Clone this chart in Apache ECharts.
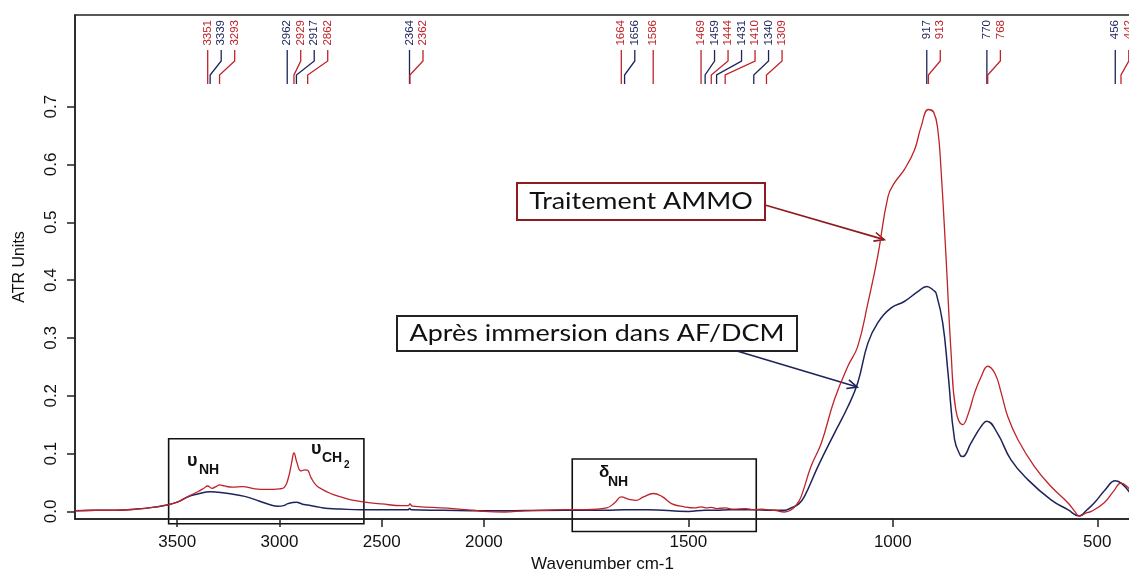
<!DOCTYPE html>
<html><head><meta charset="utf-8">
<script src="https://cdn.jsdelivr.net/npm/echarts@6/dist/echarts.min.js"></script>
<style>html,body{margin:0;padding:0;background:#fff}#c{width:1129px;height:570px}</style>
</head><body><div id="c"></div>
<script>
// ---- data ----
const wnAmmo = [4000,3900,3800,3700,3600,3550,3500,3450,3400,3370,3351,3330,3310,3293,3270,3230,3180,3120,3060,3000,2975,2955,2940,2929,2915,2895,2875,2862,2845,2820,2790,2750,2700,2650,2600,2500,2400,2370,2362,2350,2250,2150,2050,2000,1950,1900,1850,1800,1750,1700,1680,1664,1645,1628,1610,1586,1565,1540,1510,1485,1469,1455,1444,1431,1410,1390,1360,1340,1320,1309,1290,1265,1250,1235,1224,1200,1175,1143,1110,1086,1061,1037,1012,996,972,947,931,913,900,890,882,870,857,846,829,815,800,784,768,750,735,719,694,654,613,572,555,544,528,515,483,460,442,430,420];
const absAmmo = [0.001,0.002,0.002,0.004,0.008,0.011,0.016,0.025,0.034,0.040,0.044,0.040,0.043,0.046,0.044,0.042,0.043,0.039,0.038,0.039,0.042,0.060,0.085,0.101,0.085,0.070,0.072,0.071,0.058,0.045,0.038,0.031,0.025,0.020,0.017,0.013,0.010,0.010,0.013,0.009,0.007,0.005,0.002,0.000,-0.001,0.001,0.002,0.003,0.003,0.006,0.015,0.025,0.021,0.019,0.025,0.031,0.026,0.013,0.008,0.006,0.008,0.006,0.007,0.005,0.006,0.004,0.005,0.003,0.004,0.003,0.002,-0.001,0.002,0.012,0.026,0.078,0.118,0.193,0.251,0.285,0.360,0.441,0.544,0.568,0.591,0.625,0.665,0.695,0.690,0.660,0.590,0.441,0.268,0.176,0.150,0.170,0.205,0.233,0.251,0.238,0.205,0.164,0.124,0.078,0.043,0.015,0.000,-0.008,-0.003,0.000,0.015,0.035,0.049,0.045,0.037];
const wnImm = [4000,3900,3800,3700,3600,3550,3500,3450,3400,3339,3300,3250,3170,3100,3050,3007,2980,2962,2940,2917,2890,2860,2800,2760,2700,2600,2500,2370,2364,2355,2200,2000,1800,1700,1656,1600,1500,1459,1431,1400,1340,1300,1265,1249,1230,1216,1183,1143,1110,1086,1061,1037,1004,972,939,917,900,894,878,865,849,835,829,809,784,770,744,711,670,613,572,544,525,507,480,456,440,420];
const absImm = [0.001,0.002,0.002,0.004,0.008,0.011,0.016,0.025,0.030,0.034,0.033,0.031,0.026,0.018,0.012,0.009,0.010,0.013,0.015,0.016,0.013,0.011,0.007,0.005,0.004,0.003,0.003,0.003,0.005,0.003,0.002,0.001,0.002,0.002,0.003,0.003,0.000,0.002,0.002,0.003,0.003,0.002,0.002,0.006,0.013,0.026,0.078,0.135,0.181,0.222,0.291,0.326,0.352,0.363,0.380,0.389,0.382,0.377,0.326,0.239,0.124,0.097,0.095,0.118,0.147,0.156,0.135,0.089,0.055,0.020,0.003,-0.008,0.003,0.015,0.038,0.053,0.048,0.032];
const xTicks = [3500,3000,2500,2000,1500,1000,500];
const yTicks = [0,0.1,0.2,0.3,0.4,0.5,0.6,0.7];
const peaksImm = [3339,2962,2917,2364,1656,1459,1431,1340,917,770,456];
const peaksAmmo = [3351,3293,2929,2862,2362,1664,1586,1469,1444,1410,1309,913,768,442];
const nameAmmo = 'Traitement AMMO';
const nameImm = 'Après immersion dans AF/DCM';

// ---- styles / layout ----
const RED = '#BF2229', NAVY = '#1D2459', AX = '#222';
const FONT = 'Liberation Sans';
function tx(w){ return w <= 2000 ? w : 2000 + (w - 2000) / 2; }
function itx(t){ return t <= 2000 ? t : 2000 + (t - 2000) * 2; }

const chart = echarts.init(document.getElementById('c'));
chart.setOption({
  animation: false,
  grid: {left: 75, right: -1, top: 15, bottom: 51, show: true, borderColor: AX, borderWidth: 1.5, outerBoundsMode: 'none', containLabel: false},
  xAxis: {
    type: 'value', inverse: true, min: tx(420), max: tx(4000),
    name: 'Wavenumber cm-1', nameLocation: 'middle', nameGap: 32,
    nameTextStyle: {fontFamily: FONT, fontSize: 17, color: '#111'},
    axisLine: {show: true, onZero: false, lineStyle: {color: AX, width: 1.5}},
    axisTick: {show: true, length: 8, customValues: xTicks.map(tx), lineStyle: {color: AX, width: 1.5}},
    axisLabel: {customValues: xTicks.map(tx), formatter: v => String(Math.round(itx(v))), fontFamily: FONT, fontSize: 17, color: '#111', margin: 15},
    splitLine: {show: false}
  },
  yAxis: {
    type: 'value', min: -0.0131, max: 0.8584,
    name: 'ATR Units', nameLocation: 'middle', nameGap: 47, nameRotate: 90,
    nameTextStyle: {fontFamily: FONT, fontSize: 16, color: '#111'},
    axisLine: {show: true, onZero: false, lineStyle: {color: AX, width: 1.5}},
    axisTick: {show: true, length: 8, customValues: yTicks, lineStyle: {color: AX, width: 1.5}},
    axisLabel: {customValues: yTicks, rotate: 90, formatter: v => v.toFixed(1), fontFamily: FONT, fontSize: 17, color: '#111', margin: 15},
    splitLine: {show: false}
  },
  series: [
    {type: 'line', name: nameImm, showSymbol: false, smooth: 0.45, lineStyle: {color: NAVY, width: 1.5},
     data: wnImm.map((w, i) => [tx(w), absImm[i]])},
    {type: 'line', name: nameAmmo, showSymbol: false, smooth: 0.45, lineStyle: {color: RED, width: 1.3},
     data: wnAmmo.map((w, i) => [tx(w), absAmmo[i]])}
  ]
});

function px(w, y){ return chart.convertToPixel({gridIndex: 0}, [tx(w), y]); }

const g = [];
// peak labels
const peaks = peaksImm.map(w => ({w, c: NAVY})).concat(peaksAmmo.map(w => ({w, c: RED})));
peaks.sort((a, b) => b.w - a.w);
let last = -1e9;
peaks.forEach(p => {
  const x = px(p.w, 0)[0];
  const lx = Math.max(x, last + 13.5);
  last = lx;
  g.push({type: 'polyline', silent: true, shape: {points: [[lx, 50], [lx, 61], [x, 75], [x, 84]]}, style: {stroke: p.c, lineWidth: 1.3, fill: null}});
  g.push({type: 'text', x: lx, y: 20, rotation: Math.PI / 2, style: {text: String(p.w), fill: p.c, font: '11.5px ' + FONT, align: 'right', verticalAlign: 'middle'}});
});

// boxes around regions
function regionBox(w1, w2, y1, y2){
  const a = px(w1, y1), b = px(w2, y2);
  return {type: 'rect', silent: true, shape: {x: a[0], y: a[1], width: b[0] - a[0], height: b[1] - a[1]}, style: {fill: null, stroke: '#111', lineWidth: 1.6}};
}
g.push(regionBox(3542, 2587, 0.1256, -0.0213));
g.push(regionBox(1784, 1334, 0.0906, -0.0346));

// greek labels
function lab(x, y, t, size, bold){ return {type: 'text', x, y, style: {text: t, fill: '#111', font: (bold ? 'bold ' : '') + size + 'px ' + FONT}}; }
g.push(lab(187, 452, 'υ', 18, true), lab(199, 463, 'NH', 14, true));
g.push(lab(311, 440, 'υ', 18, true), lab(322, 451, 'CH', 14, true), lab(344, 460, '2', 10, true));
g.push(lab(599, 464, 'δ', 17, true), lab(608, 475, 'NH', 14, true));

// arrows
function arrow(x1, y1, x2, y2, color){
  const ang = Math.atan2(y2 - y1, x2 - x1), L = 11, s = 0.42;
  const h1 = [x2 - L * Math.cos(ang - s), y2 - L * Math.sin(ang - s)];
  const h2 = [x2 - L * Math.cos(ang + s), y2 - L * Math.sin(ang + s)];
  return [
    {type: 'line', silent: true, shape: {x1, y1, x2, y2}, style: {stroke: color, lineWidth: 1.6}},
    {type: 'polyline', silent: true, shape: {points: [h1, [x2, y2], h2]}, style: {stroke: color, lineWidth: 1.6, fill: null}}
  ];
}
// text boxes
g.push({type: 'rect', silent: true, shape: {x: 517, y: 183, width: 248, height: 37}, style: {fill: '#fff', stroke: '#8E1B1F', lineWidth: 2}});
g.push({type: 'text', x: 641, y: 201.5, scaleX: 1.17, style: {text: nameAmmo, fill: '#111', font: '23px Lato', align: 'center', verticalAlign: 'middle'}});
const tA = px(1021, 0.47);
g.push(...arrow(765, 205, tA[0], tA[1], '#8E1B1F'));

g.push({type: 'rect', silent: true, shape: {x: 397, y: 316, width: 400, height: 35}, style: {fill: '#fff', stroke: '#222', lineWidth: 2}});
g.push({type: 'text', x: 597, y: 333.5, scaleX: 1.17, style: {text: nameImm, fill: '#111', font: '23px Lato', align: 'center', verticalAlign: 'middle'}});
const tB = px(1087, 0.215);
g.push(...arrow(737, 351, tB[0], tB[1], NAVY));

chart.setOption({graphic: g});
</script></body></html>
